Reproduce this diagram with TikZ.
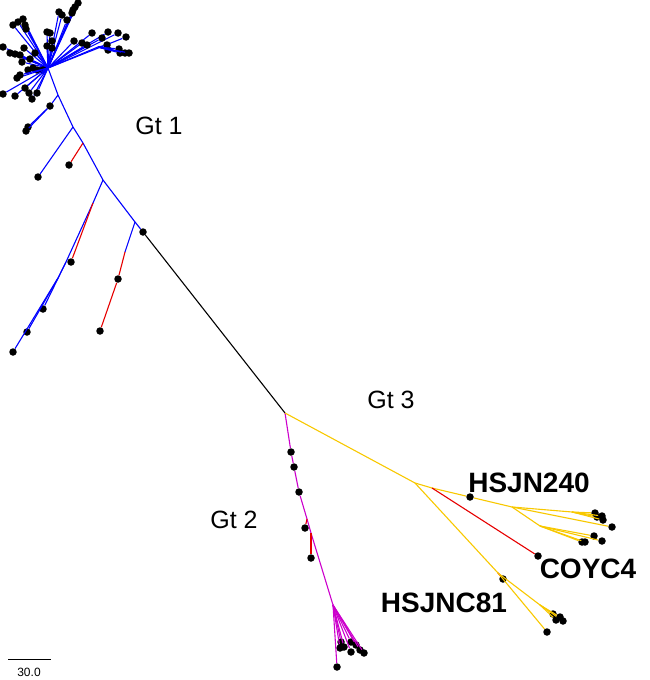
\documentclass[tikz,border=0pt]{standalone}
\usepackage{fontspec}
\setmainfont{Liberation Sans}
\definecolor{gtone}{RGB}{0,0,255}
\definecolor{gttwo}{RGB}{204,0,204}
\definecolor{gtthree}{RGB}{248,200,0}
\definecolor{mixed}{RGB}{230,0,0}
\tikzset{
  leaf/.style={circle, fill=black, inner sep=0pt, minimum size=7.5pt},
  br/.style={line width=1.1pt},
  gtlabel/.style={font=\fontsize{25}{25}\selectfont},
  strainlabel/.style={font=\bfseries\fontsize{28}{28}\selectfont},
}
\begin{document}
\begin{tikzpicture}[x=1pt,y=-1pt]
        \useasboundingbox (0,0) rectangle (650,680);

        % Gt 1 star
        \coordinate (hub) at (48,68);
        \coordinate (rhub) at (98,47);
        \foreach \px/\py [count=\i] in {78/3,75/7,73/10,72/13,67/20,59/12,62/15,
            23/19,18/22,13/25,25/25,26/29,47/32,50/33,52/41,47/46,52/48,
            92/33,108/32,118/33,126/37,102/38,74/41,82/43,87/45,
            3/47,10/53,15/54,20/55,24/48,35/53,22/62,30/59,
            28/70,33/68,37/70,43/70,17/78,20/75,
            3/94,15/96,25/88,29/93,32/99,37/93} {
            \node[leaf] (a\i) at (\px,\py) {};
            \draw[br, gtone] (hub) -- (a\i);
        }
        \draw[br, gtone] (hub) -- (rhub);
        \foreach \px/\py [count=\i] in {107/45,108/50,119/49,120/53,125/53,129/53} {
            \node[leaf] (b\i) at (\px,\py) {};
            \draw[br, gtone] (rhub) -- (b\i);
        }

        % Gt 1 trunk
        \coordinate (t1) at (58,95);
        \coordinate (t2) at (73,127);
        \coordinate (t3) at (83,143);
        \coordinate (t4) at (103,180);
        \coordinate (t4a) at (93,203);
        \coordinate (t4b) at (66,262);
        \coordinate (t4c) at (58,278);
        \coordinate (t5) at (135,222);
        \coordinate (t5a) at (125,252);
        \node[leaf] (s1) at (50,106) {};
        \node[leaf] (s2) at (28,127) {};
        \node[leaf] (s3) at (26,131) {};
        \node[leaf] (s4) at (38,177) {};
        \node[leaf] (s5) at (69,165) {};
        \node[leaf] (s6) at (71,262) {};
        \node[leaf] (s7) at (43,309) {};
        \node[leaf] (s8) at (27,332) {};
        \node[leaf] (s9) at (13,352) {};
        \node[leaf] (s10) at (118,279) {};
        \node[leaf] (s11) at (100,331) {};
        \node[leaf] (root) at (143,232) {};
        \draw[br, gtone] (hub) -- (t1) -- (t2) -- (t3) -- (t4) -- (t5) -- (root);
        \draw[br, gtone] (t1) -- (s1) -- (s2);
        \draw[br, gtone] (s1) -- (s3);
        \draw[br, gtone] (t2) -- (s4);
        \draw[br, mixed] (t3) -- (s5);
        \draw[br, gtone] (t4) -- (t4a) -- (t4b) -- (s7);
        \draw[br, gtone] (t4b) -- (t4c) -- (s8);
        \draw[br, gtone] (t4c) -- (s9);
        \draw[br, mixed] (t4a) -- (s6);
        \draw[br, gtone] (t5) -- (t5a);
        \draw[br, mixed] (t5a) -- (s10) -- (s11);

        % centre
        \coordinate (c3) at (285,413);
        \draw[br, black] (root) -- (c3);

        % Gt 2
        \node[leaf] (m1) at (291,452) {};
        \node[leaf] (m2) at (294,467) {};
        \node[leaf] (m3) at (299,492) {};
        \coordinate (m4) at (307,519);
        \coordinate (m5) at (311,533);
        \coordinate (mhub) at (333,605);
        \node[leaf] (r1) at (305,528) {};
        \node[leaf] (r2) at (311,558) {};
        \draw[br, gttwo] (c3) -- (m1) -- (m2) -- (m3) -- (m4) -- (m5) -- (mhub);
        \draw[br, mixed] (m4) -- (r1);
        \draw[br, mixed] (m5) -- (r2);
        \foreach \px/\py [count=\i] in {341/642,340/648,344/647,351/642,351/652,
            356/645,360/650,364/653,337/667} {
            \node[leaf] (g\i) at (\px,\py) {};
            \draw[br, gttwo] (mhub) -- (g\i);
        }

        % Gt 3
        \coordinate (y1) at (415,483);
        \coordinate (y1b) at (432,488);
        \coordinate (y2) at (512,507);
        \coordinate (y2a) at (572,512);
        \coordinate (y2b) at (540,526);
        \coordinate (y3) at (498,573);
        \coordinate (y4) at (540,605);
        \node[leaf] (h240) at (470,497) {};
        \node[leaf] (coyc) at (538,556) {};
        \node[leaf] (h81) at (503,579) {};
        \node[leaf] (k1) at (612,527) {};
        \node[leaf] (k2) at (547,632) {};
        \draw[br, gtthree] (c3) -- (y1) -- (y1b) -- (h240) -- (y2) -- (y2a);
        \draw[br, mixed] (y1b) -- (coyc);
        \draw[br, gtthree] (y2) -- (k1);
        \draw[br, gtthree] (y2) -- (y2b);
        \foreach \px/\py [count=\i] in {595/513,597/517,602/516,603/520} {
            \node[leaf] (e\i) at (\px,\py) {};
            \draw[br, gtthree] (y2a) -- (e\i);
        }
        \foreach \px/\py [count=\i] in {594/536,602/541,582/542,585/542} {
            \node[leaf] (f\i) at (\px,\py) {};
            \draw[br, gtthree] (y2b) -- (f\i);
        }
        \draw[br, gtthree] (y1) -- (y3) -- (y4);
        \draw[br, mixed] (y3) -- (h81);
        \draw[br, gtthree] (y3) -- (k2);
        \foreach \px/\py [count=\i] in {553/614,556/620,563/621,560/617} {
            \node[leaf] (d\i) at (\px,\py) {};
            \draw[br, gtthree] (y4) -- (d\i);
        }

        % labels
        \node[gtlabel] (lab1) at (159,126) {Gt 1};
        \node[gtlabel] (lab2) at (234,520) {Gt 2};
        \node[gtlabel] (lab3) at (391,400) {Gt 3};
        \node[strainlabel] (labh240) at (529,483) {HSJN240};
        \node[strainlabel] (labcoyc) at (588,569) {COYC4};
        \node[strainlabel] (labh81) at (444,603) {HSJNC81};

        % scale bar
        \coordinate (sb1) at (8,659);
        \coordinate (sb2) at (51,659);
        \draw[line width=0.8pt] (sb1) -- (sb2);
        \node[font=\fontsize{12}{12}\selectfont] (sbt) at (29,672) {30.0};
\end{tikzpicture}
\end{document}
